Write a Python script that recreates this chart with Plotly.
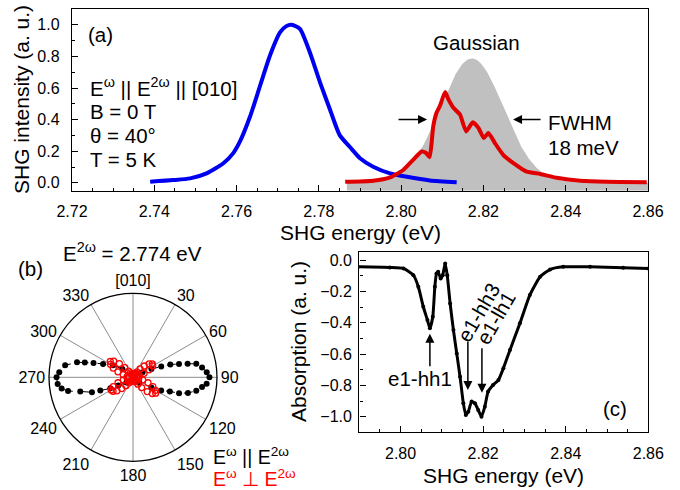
import numpy as np
import plotly.graph_objects as go

W, H = 680, 490
FONT = "Arial, Liberation Sans, sans-serif"

# ---------------- (a) SHG spectra ----------------
blue_energy = [2.7390, 2.7446, 2.7487, 2.7527, 2.7568, 2.7592, 2.7608, 2.7633, 2.7657,
               2.7681, 2.7706, 2.7720, 2.7734, 2.7754, 2.7778, 2.7803, 2.7827, 2.7851,
               2.7876, 2.7900, 2.7932, 2.7973, 2.8014, 2.8070, 2.8135]
blue_intensity = [0.006, 0.017, 0.028, 0.060, 0.124, 0.188, 0.260, 0.421, 0.613,
                  0.804, 0.953, 0.990, 1.000, 0.974, 0.826, 0.634, 0.464, 0.300,
                  0.225, 0.156, 0.102, 0.060, 0.038, 0.015, 0.004]

red_energy = [2.7864, 2.7932, 2.7973, 2.8005, 2.8029, 2.8050, 2.8060, 2.8069, 2.8074,
              2.8078, 2.8086, 2.8094, 2.8107, 2.8115, 2.8127, 2.8143, 2.8158, 2.8174,
              2.8188, 2.8201, 2.8212, 2.8228, 2.8248, 2.8273, 2.8305, 2.8338, 2.8378,
              2.8435, 2.8500, 2.8597]
red_intensity = [0.006, 0.013, 0.034, 0.081, 0.145, 0.198, 0.190, 0.162, 0.251,
                 0.357, 0.443, 0.485, 0.574, 0.528, 0.475, 0.432, 0.325, 0.383,
                 0.347, 0.283, 0.315, 0.251, 0.177, 0.124, 0.070, 0.056, 0.032,
                 0.013, 0.006, 0.004]

# Gaussian reference profile (FWHM 18 meV)
gauss_center = 2.8172
gauss_peak = 0.787
gauss_fwhm = 0.018
gauss_start, gauss_end = 2.7868, 2.86
y_floor_a = -0.05

# ---------------- (b) rotational anisotropy at 2.774 eV ----------------
par_angle = [0, 30, 50, 62, 66, 69, 71, 74, 76, 78, 82, 86, 90, 95, 98, 102, 106, 109,
             111, 115, 119, 130, 150, 180, 210, 232, 241, 244, 248, 250, 255, 258, 261,
             265, 270, 274, 280, 285, 287, 290, 294, 301, 308, 330, 360]
par_r = [0.01, 0.03, 0.07, 0.13, 0.24, 0.36, 0.47, 0.57, 0.67, 0.77, 0.83, 0.88, 0.91,
         0.88, 0.83, 0.77, 0.68, 0.58, 0.47, 0.37, 0.25, 0.10, 0.03, 0.01, 0.03, 0.10,
         0.20, 0.30, 0.42, 0.52, 0.65, 0.79, 0.86, 0.90, 0.91, 0.88, 0.82, 0.69, 0.60,
         0.50, 0.39, 0.28, 0.16, 0.04, 0.01]

perp_angle = list(range(0, 360, 5))
perp_r = [0.04, 0.03, 0.04, 0.04, 0.05, 0.05, 0.05, 0.08, 0.13, 0.19, 0.25, 0.28,
          0.27, 0.21, 0.14, 0.08, 0.05, 0.04, 0.04, 0.05, 0.07, 0.12, 0.19, 0.26,
          0.31, 0.33, 0.30, 0.24, 0.16, 0.10, 0.06, 0.04, 0.03, 0.03, 0.04, 0.03,
          0.03, 0.04, 0.03, 0.04, 0.04, 0.05, 0.05, 0.08, 0.13, 0.19, 0.25, 0.29,
          0.30, 0.26, 0.19, 0.12, 0.07, 0.05, 0.04, 0.05, 0.07, 0.12, 0.19, 0.26,
          0.31, 0.33, 0.30, 0.23, 0.15, 0.09, 0.06, 0.04, 0.03, 0.04, 0.03, 0.04]

angle_ticks = list(range(0, 360, 30))
angle_labels = ["[010]", "30", "60", "90", "120", "150", "180", "210", "240", "270",
                "300", "330"]

# ---------------- (c) absorption ----------------
abs_energy = [2.7898, 2.7974, 2.8007, 2.8031, 2.8043, 2.8055, 2.8065, 2.8071, 2.8078,
              2.8083, 2.8087, 2.8091, 2.8097, 2.8102, 2.8108, 2.8113, 2.8120, 2.8128,
              2.8136, 2.8144, 2.8152, 2.8158, 2.8164, 2.8172, 2.8180, 2.8188, 2.8196,
              2.8204, 2.8212, 2.8224, 2.8237, 2.8249, 2.8265, 2.8289, 2.8313, 2.8338,
              2.8362, 2.8394, 2.8459, 2.8539, 2.8600]
abs_value = [-0.043, -0.047, -0.053, -0.096, -0.170, -0.298, -0.383, -0.436, -0.362,
             -0.170, -0.085, -0.075, -0.117, -0.096, -0.021, -0.096, -0.277, -0.447,
             -0.596, -0.745, -0.915, -0.989, -0.968, -0.904, -0.915, -0.957, -1.000,
             -0.936, -0.840, -0.798, -0.766, -0.691, -0.574, -0.404, -0.223, -0.106,
             -0.060, -0.043, -0.043, -0.049, -0.053]


def px(x):
    return x / W


def py(y):
    return 1 - y / H


fig = go.Figure()

# Gaussian, filled down to the bottom of the frame
gx = np.linspace(gauss_start, gauss_end, 400)
sigma = gauss_fwhm / (2 * np.sqrt(2 * np.log(2)))
gy = gauss_peak * np.exp(-(gx - gauss_center) ** 2 / (2 * sigma ** 2))
fig.add_trace(go.Scatter(
    x=list(gx) + [gauss_end, gauss_start],
    y=list(gy) + [y_floor_a, y_floor_a],
    fill="toself", fillcolor="#c0c0c0", line=dict(width=0), mode="lines",
    xaxis="x", yaxis="y", hoverinfo="skip"))

fig.add_trace(go.Scatter(x=blue_energy, y=blue_intensity, mode="lines",
                         line=dict(color="#0000f0", width=4, shape="spline", smoothing=0.6),
                         xaxis="x", yaxis="y"))
fig.add_trace(go.Scatter(x=red_energy, y=red_intensity, mode="lines",
                         line=dict(color="#e00000", width=4, shape="spline", smoothing=0.5),
                         xaxis="x", yaxis="y"))

# polar panel
fig.add_trace(go.Scatterpolar(theta=par_angle, r=par_r, mode="lines+markers",
                              line=dict(color="black", width=1, dash="dash"),
                              marker=dict(color="black", size=6), subplot="polar"))
fig.add_trace(go.Scatterpolar(theta=perp_angle, r=perp_r, mode="markers",
                              marker=dict(color="#ff0000", size=6, symbol="circle-open",
                                          line=dict(width=1.3)),
                              subplot="polar"))

# absorption
fig.add_trace(go.Scatter(x=abs_energy, y=abs_value, mode="lines+markers",
                         line=dict(color="black", width=3, shape="spline", smoothing=0.5),
                         marker=dict(color="black", size=4),
                         xaxis="x2", yaxis="y2"))

axis_common = dict(showline=True, linecolor="black", linewidth=1.4, mirror=True,
                   ticks="inside", ticklen=6, tickwidth=1.2, tickcolor="black",
                   showgrid=False, zeroline=False, automargin=False,
                   tickfont=dict(family=FONT, size=16, color="black"))

fig.update_layout(
    template="none",
    width=W, height=H, margin=dict(l=0, r=0, t=0, b=0, pad=0),
    paper_bgcolor="white", plot_bgcolor="white", showlegend=False,
    font=dict(family=FONT, color="black"),
    xaxis=dict(domain=[px(72), px(648)], range=[2.72, 2.86], tick0=2.72, dtick=0.02,
               tickformat=".2f", anchor="y", ticklabelstandoff=6,
               minor=dict(ticks="inside", ticklen=3, dtick=0.005, tickcolor="black"),
               **axis_common),
    yaxis=dict(domain=[py(190.7), py(9)], range=[-0.05, 1.1], tick0=0, dtick=0.2,
               tickformat=".1f", anchor="x", ticklabelstandoff=8,
               minor=dict(ticks="inside", ticklen=3, dtick=0.1, tickcolor="black"),
               **axis_common),
    xaxis2=dict(domain=[px(359.3), px(648.3)], range=[2.79, 2.86], tick0=2.80, dtick=0.02,
                tickformat=".2f", anchor="y2", ticklabelstandoff=6,
                minor=dict(ticks="inside", ticklen=3, dtick=0.005, tickcolor="black"),
                **axis_common),
    yaxis2=dict(domain=[py(432.3), py(252.3)], range=[-1.1, 0.05], tick0=0, dtick=0.2,
                tickformat=".1f", anchor="x2", ticklabelstandoff=3,
                minor=dict(ticks="inside", ticklen=3, dtick=0.1, tickcolor="black"),
                **axis_common),
    polar=dict(
        domain=dict(x=[px(49), px(217)], y=[py(461.3), py(293.3)]),
        bgcolor="white",
        angularaxis=dict(rotation=90, direction="clockwise", tickmode="array",
                         tickvals=angle_ticks, ticktext=angle_labels,
                         showgrid=True, gridcolor="#8c8c8c", gridwidth=1,
                         showline=True, linecolor="black", linewidth=1.3, ticks="",
                         tickfont=dict(family=FONT, size=16, color="black")),
        radialaxis=dict(range=[0, 1], showgrid=False, showline=False,
                        showticklabels=False, ticks=""),
    ),
)


def label(x, y, text, size=20.5, color="black", angle=0, xanchor="center"):
    fig.add_annotation(x=px(x), y=py(y), xref="paper", yref="paper", text=text,
                       showarrow=False, textangle=angle, xanchor=xanchor, yanchor="middle",
                       font=dict(family=FONT, size=size, color=color))


def pointer(x, y, xa, ya, dx, dy):
    """Filled black arrow ending at (x, y); the tail sits (dx, dy) pixels away."""
    fig.add_annotation(x=x, y=y, xref=xa, yref=ya, ax=dx, ay=dy, text="",
                       showarrow=True, arrowhead=2, arrowsize=1.2, arrowwidth=1.5,
                       arrowcolor="black")


# axis titles
label(360, 233, "SHG energy (eV)", size=21)
label(21, 100, "SHG intensity (a. u.)", size=21, angle=-90)
label(503, 475, "SHG energy (eV)", size=21)
label(298, 342, "Absorption (a. u.)", size=21, angle=-90)

# panel (a) texts
label(100, 35, "(a)")
label(88, 87, "E<sup>ω</sup> || E<sup>2ω</sup> || [010]", xanchor="left")
label(88, 111, "B = 0 T", xanchor="left")
label(88, 135, "θ = 40°", xanchor="left")
label(88, 159, "T = 5 K", xanchor="left")
label(477, 43, "Gaussian")
label(546, 122, "FWHM", xanchor="left")
label(546, 147, "18 meV", xanchor="left")
pointer(2.8063, 0.40, "x", "y", -30, 0)
pointer(2.8272, 0.40, "x", "y", 29, 0)

# panel (b) texts
label(30, 268, "(b)")
label(132, 252, "E<sup>2ω</sup> = 2.774 eV")
label(211, 456, "E<sup>ω</sup> || E<sup>2ω</sup>", size=19.5, xanchor="left")
label(211, 478, "E<sup>ω</sup> ⊥ E<sup>2ω</sup>", size=19.5, color="#ff0000", xanchor="left")

# panel (c) texts
label(615, 408, "(c)")
label(420, 378, "e1-hh1")
label(478, 312, "e1-hh3", angle=-60)
label(495, 318, "e1-lh1", angle=-60)
pointer(2.8071, -0.47, "x2", "y2", 0, 34)
pointer(2.8163, -0.83, "x2", "y2", 0, -50)
pointer(2.8197, -0.847, "x2", "y2", 0, -46)

fig.write_html("out.html")
